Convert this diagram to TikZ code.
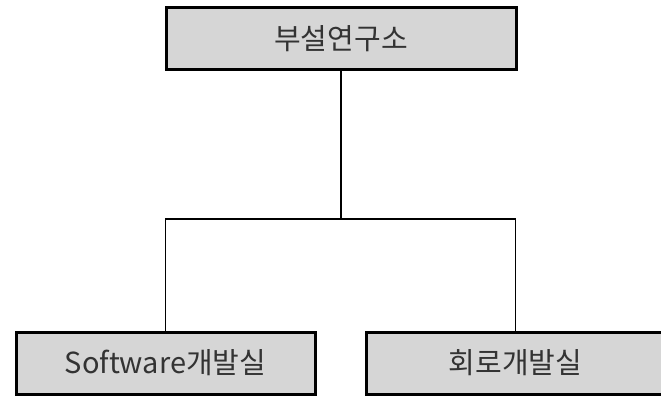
\documentclass[tikz,border=0pt]{standalone}
\usepackage{fontspec}
\newfontfamily\kr{Noto Sans CJK KR}
\definecolor{boxfill}{HTML}{D6D6D6}
\definecolor{txt}{HTML}{333333}
\begin{document}
\begin{tikzpicture}[x=1pt,y=-1pt,
  orgbox/.style={draw=black, line width=3pt, fill=boxfill, minimum height=62pt, inner sep=0pt,
    font=\kr\fontsize{29}{33}\selectfont, text=txt},
  conn/.style={draw=black, line width=1.5pt}]
\useasboundingbox (0,0) rectangle (661,403);
\clip (0,0) rectangle (661,403);
\node[orgbox, minimum width=350pt] (top) at (341,39) {부설연구소};
\node[orgbox, minimum width=299pt] (sw) at (165.5,363) {Software개발실};
\node[orgbox, minimum width=299pt] (hw) at (515.5,363) {회로개발실};
\coordinate (j) at (341,219);
\draw[conn] (top.south) -- (j);
\draw[conn] (sw.north) |- (j) -| (hw.north);
\end{tikzpicture}
\end{document}
